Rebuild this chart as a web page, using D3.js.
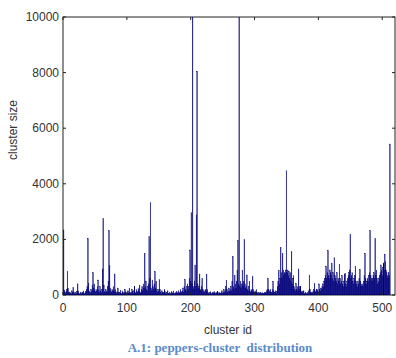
<!DOCTYPE html>
<html>
<head>
<meta charset="utf-8">
<script src="https://cdn.jsdelivr.net/npm/d3@7"></script>
<style>
  html, body { margin: 0; padding: 0; background: #fff; }
  svg { display: block; }
  .tick-label { font-family: "Liberation Sans", Arial, sans-serif; font-size: 12px; fill: #333; }
  .axis-title { font-family: "Liberation Sans", Arial, sans-serif; font-size: 12px; fill: #333; }
  .caption { font-family: "Liberation Serif", "Times New Roman", serif; font-size: 13px; font-weight: bold; fill: #5b8bc8; white-space: pre; }
</style>
</head>
<body>
<div id="chart"></div>
<script>
// cluster sizes, cluster id 1..512 (16 per row)
const clusterSizes = [
  2340, 180, 90, 60, 120, 200, 860, 240, 80, 50, 100, 60, 40, 150, 90, 280,
  110, 60, 40, 80, 50, 120, 400, 150, 60, 30, 50, 90, 40, 60, 100, 150,
  60, 40, 80, 120, 200, 300, 2040, 420, 150, 90, 60, 200, 120, 350, 800, 250,
  400, 150, 90, 200, 120, 300, 540, 180, 100, 300, 150, 80, 200, 935, 2760, 350,
  120, 80, 200, 150, 90, 300, 500, 2310, 1055, 250, 120, 80, 200, 150, 300, 120,
  755, 200, 90, 60, 120, 250, 100, 50, 80, 180, 60, 40, 150, 90, 50, 80,
  200, 120, 60, 40, 90, 150, 60, 250, 100, 50, 80, 200, 120, 60, 150, 300,
  100, 60, 200, 120, 80, 230, 150, 350, 100, 60, 200, 300, 150, 400, 250, 1500,
  300, 500, 200, 150, 300, 400, 2100, 600, 3330, 250, 150, 540, 300, 200, 400, 840,
  250, 500, 150, 90, 200, 120, 560, 200, 90, 60, 150, 100, 60, 80, 200, 120,
  60, 40, 80, 150, 60, 40, 100, 60, 40, 120, 80, 50, 150, 60, 40, 90,
  60, 120, 80, 50, 150, 100, 60, 200, 120, 80, 150, 250, 100, 300, 560, 200,
  150, 300, 400, 200, 300, 600, 1620, 500, 2960, 400, 10000, 300, 200, 500, 1080, 300,
  2880, 8050, 400, 250, 300, 755, 200, 150, 300, 600, 200, 100, 150, 80, 200, 150,
  750, 200, 100, 60, 40, 80, 120, 60, 40, 100, 50, 80, 120, 60, 40, 100,
  60, 120, 80, 40, 100, 60, 50, 80, 150, 60, 100, 200, 80, 150, 300, 540,
  200, 100, 150, 250, 120, 200, 300, 150, 500, 1380, 300, 200, 700, 400, 250, 500,
  900, 1950, 400, 10000, 300, 500, 250, 400, 900, 300, 500, 2000, 400, 250, 300, 720,
  200, 150, 300, 500, 150, 100, 200, 120, 660, 200, 100, 60, 150, 80, 200, 100,
  60, 40, 80, 60, 100, 50, 40, 80, 60, 30, 50, 80, 100, 60, 150, 200,
  600, 200, 100, 150, 200, 100, 80, 200, 480, 150, 100, 80, 150, 60, 120, 300,
  500, 880, 400, 600, 1715, 800, 600, 1500, 900, 700, 800, 780, 900, 4470, 800, 900,
  700, 850, 600, 800, 500, 1560, 400, 600, 700, 300, 200, 150, 420, 200, 300, 150,
  935, 300, 200, 300, 150, 100, 80, 120, 150, 60, 40, 100, 60, 40, 80, 60,
  150, 720, 200, 100, 100, 60, 80, 150, 200, 420, 150, 100, 200, 200, 150, 100,
  400, 200, 150, 250, 200, 300, 400, 300, 500, 600, 700, 1040, 600, 800, 1600, 700,
  600, 900, 800, 700, 1140, 600, 800, 500, 1340, 700, 600, 500, 800, 400, 600, 500,
  1110, 600, 400, 500, 700, 400, 300, 500, 750, 780, 400, 300, 500, 600, 700, 800,
  900, 2190, 600, 700, 800, 500, 400, 600, 700, 1040, 500, 400, 300, 500, 400, 600,
  920, 500, 400, 300, 400, 300, 500, 700, 1500, 600, 400, 500, 600, 500, 700, 800,
  2310, 700, 600, 500, 600, 700, 800, 600, 2040, 700, 900, 600, 400, 500, 600, 700,
  800, 1080, 900, 700, 1000, 1150, 900, 1470, 1200, 900, 800, 700, 600, 800, 700, 5430
];
const xTicks = [0, 100, 200, 300, 400, 500];
const yTicks = [0, 2000, 4000, 6000, 8000, 10000];
const xDomain = [0, 520];
const yDomain = [0, 10000];

const width = 396, height = 358;
const margin = { top: 17, right: 1, bottom: 63, left: 63 };

const svg = d3.select("#chart").append("svg")
  .attr("width", width)
  .attr("height", height);

const x = d3.scaleLinear().domain(xDomain).range([margin.left, width - margin.right]);
const y = d3.scaleLinear().domain(yDomain).range([height - margin.bottom, margin.top]);

const x0 = x(xDomain[0]), x1 = x(xDomain[1]);
const y0 = y(yDomain[0]), y1 = y(yDomain[1]);
const tickLen = 3;

// matlab-style box, drawn first so the first bar stays visible on top of it
svg.append("rect")
  .attr("x", x0).attr("y", y1)
  .attr("width", x1 - x0).attr("height", y0 - y1)
  .attr("fill", "none")
  .attr("stroke", "#222")
  .attr("stroke-width", 1);

const data = clusterSizes.map((v, i) => ({ id: i + 1, size: v }));
// bars drawn full width with a thin edge, like matlab's bar() with edge lines
const barW = x(1) - x(0);

svg.append("clipPath").attr("id", "plot-clip")
  .append("rect")
  .attr("x", x0).attr("y", y1)
  .attr("width", x1 - x0)
  .attr("height", y0 - y1);

svg.append("g")
  .attr("clip-path", "url(#plot-clip)")
  .selectAll("rect")
  .data(data)
  .join("rect")
  .attr("x", d => x(d.id) - barW / 2)
  .attr("width", barW)
  .attr("y", d => y(d.size))
  .attr("height", d => y(0) - y(d.size))
  .attr("fill", "#00008b")
  .attr("stroke", "#000070")
  .attr("stroke-width", 0.35);

// ticks pointing inward on all four sides
const ticks = svg.append("g").attr("stroke", "#222").attr("stroke-width", 1);
xTicks.forEach(t => {
  ticks.append("line").attr("x1", x(t)).attr("x2", x(t)).attr("y1", y0).attr("y2", y0 - tickLen);
  ticks.append("line").attr("x1", x(t)).attr("x2", x(t)).attr("y1", y1).attr("y2", y1 + tickLen);
});
yTicks.forEach(t => {
  ticks.append("line").attr("x1", x0).attr("x2", x0 + tickLen).attr("y1", y(t)).attr("y2", y(t));
  ticks.append("line").attr("x1", x1).attr("x2", x1 - tickLen).attr("y1", y(t)).attr("y2", y(t));
});

svg.append("g").selectAll("text")
  .data(xTicks)
  .join("text")
  .attr("class", "tick-label")
  .attr("x", d => x(d))
  .attr("y", y0 + 17)
  .attr("text-anchor", "middle")
  .text(d => d);

svg.append("g").selectAll("text")
  .data(yTicks)
  .join("text")
  .attr("class", "tick-label")
  .attr("x", x0 - 4)
  .attr("y", d => y(d) + 4)
  .attr("text-anchor", "end")
  .text(d => d);

svg.append("text")
  .attr("class", "axis-title")
  .attr("x", 228)
  .attr("y", 334)
  .attr("text-anchor", "middle")
  .text("cluster id");

svg.append("text")
  .attr("class", "axis-title")
  .attr("transform", "translate(17,130) rotate(-90)")
  .attr("text-anchor", "middle")
  .text("cluster size");

svg.append("text")
  .attr("class", "caption")
  .attr("x", 220)
  .attr("y", 352)
  .attr("text-anchor", "middle")
  .text("A.1: peppers-cluster  distribution");
</script>
</body>
</html>
